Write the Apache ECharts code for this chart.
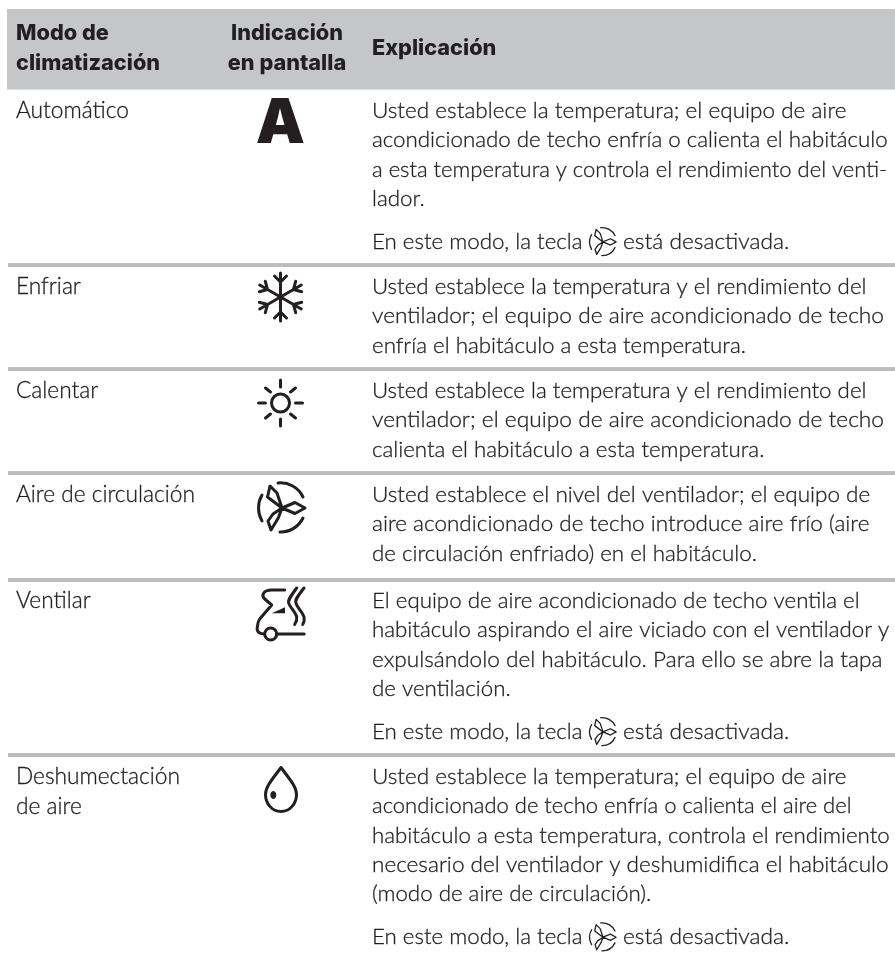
<!DOCTYPE html>
<html>
<head>
<meta charset="utf-8">
<style>
html, body { margin: 0; padding: 0; background: #fff; }
#main { width: 895px; height: 955px; }
</style>
<script src="https://cdn.jsdelivr.net/npm/echarts@6/dist/echarts.min.js"></script>
</head>
<body>
<div id="main"></div>
<script>
// table content
var headerMode = ['Modo de', 'climatización'];
var headerDisplay = ['Indicación', 'en pantalla'];
var headerText = ['Explicación'];
var modes = [
  ['Automático'],
  ['Enfriar'],
  ['Calentar'],
  ['Aire de circulación'],
  ['Ventilar'],
  ['Deshumectación', 'de aire']
];
var explanations = [
  ['Usted establece la temperatura; el equipo de aire', 'acondicionado de techo enfría o calienta el habitáculo', 'a esta temperatura y controla el rendimiento del venti-', 'lador.'],
  ['Usted establece la temperatura y el rendimiento del', 'ventilador; el equipo de aire acondicionado de techo', 'enfría el habitáculo a esta temperatura.'],
  ['Usted establece la temperatura y el rendimiento del', 'ventilador; el equipo de aire acondicionado de techo', 'calienta el habitáculo a esta temperatura.'],
  ['Usted establece el nivel del ventilador; el equipo de', 'aire acondicionado de techo introduce aire frío (aire', 'de circulación enfriado) en el habitáculo.'],
  ['El equipo de aire acondicionado de techo ventila el', 'habitáculo aspirando el aire viciado con el ventilador y', 'expulsándolo del habitáculo. Para ello se abre la tapa', 'de ventilación.'],
  ['Usted establece la temperatura; el equipo de aire', 'acondicionado de techo enfría o calienta el aire del', 'habitáculo a esta temperatura, controla el rendimiento', 'necesario del ventilador y deshumidifica el habitáculo', '(modo de aire de circulación).']
];
var notePrefix = 'En este modo, la tecla';
var noteSuffix = 'está desactivada.';
var rowsWithNote = [0, 4, 5];

var rowFirstLine = [111, 287, 391, 495, 601, 777];
var separators = [265, 369, 473, 580, 755];
var lineStep = 29.3;
var noteGap = 43;
var iconCenterX = 280.5;
var col1 = 16, col2 = 287, col3 = 372;
var ink = '#231f20';
var bodyFont = { fontFamily: 'Lato', fontSize: 22.3, fontWeight: 300, stroke: 0.3 };
var modeFont = { fontFamily: 'Lato', fontSize: 22.7, fontWeight: 300, stroke: 0.3 };
var headFont = { fontFamily: 'Inter', fontSize: 21.7, fontWeight: 800 };

// Lato runs a little differently per line, nudge the ones that end away from the reference
var lineFit = {
  'Usted establece la temperatura; el equipo de aire': 1.011,
  'a esta temperatura y controla el rendimiento del venti-': 0.987,
  'ventilador; el equipo de aire acondicionado de techo': 1.02,
  'Usted establece el nivel del ventilador; el equipo de': 1.01,
  'aire acondicionado de techo introduce aire frío (aire': 1.01,
  'expulsándolo del habitáculo. Para ello se abre la tapa': 1.014,
  'acondicionado de techo enfría o calienta el aire del': 0.986,
  'necesario del ventilador y deshumidifica el habitáculo': 1.012,
  'está desactivada.': 1.018
};

// icon outlines, drawn around their own centre
var fanPath = 'M0 0 L-5 -15 L-12 -22 L-14.5 -11 Z M0 0 L13 -5.5 L23 0 L13 5.5 Z M0 0 L-3.7 10 L-11 22 L-14 13 L-9 6 Z' +
  ' M-4 -25 A25 25 0 0 1 21 -11 M-20 -13 A26 26 0 0 0 -20 13 M-2 24 A25 25 0 0 0 21 10';
var armPath = 'M0 0 L0 -24 M-6 -21 L0 -15 L6 -21';
var ventPath = 'M14 -44 L1 -44 C-7 -44 -10 -39 -6 -35 L1 -29 L-11 -15 C-13 -12 -13 -10 -13.5 -6 C-14 -2 -11 0 -6 0' +
  ' M6 0 L33.5 0 M26 -46 C20 -38 17 -34 18 -31 C19 -27 25 -22 26 -17 C26.5 -14 25 -11 24 -9.5' +
  ' M33.3 -46 C27 -38 24 -34 25.3 -31 C26 -27 32 -22 33.3 -17 C33.8 -14 33 -11 32 -9.5';
var ventFill = 'M1 -20.7 L14.3 -26.7 L14.3 -20.7 Z';
var dropPath = 'M0 -22 C8 -11 15.5 -3 15.5 5 C15.5 14 9 22 0 22 C-9 22 -15.5 14 -15.5 5 C-15.5 -3 -8 -11 0 -22 Z';

var elements = [];
var shapeCount = 0;

function addText(str, x, y, font, align) {
  var style = {
    text: str, fill: ink, align: align || 'left', verticalAlign: 'middle',
    fontFamily: font.fontFamily, fontSize: font.fontSize, fontWeight: font.fontWeight
  };
  if (font.stroke) {
    style.stroke = ink;
    style.lineWidth = font.stroke;
  }
  elements.push({ type: 'text', x: x, y: y, scaleX: lineFit[str] || 1, silent: true, style: style });
}

// the graphic component has no plain path type, so each outline gets registered as a shape
function addPath(d, x, y, opt) {
  opt = opt || {};
  var scale = opt.scale || 1;
  var name = 'icon' + (shapeCount++);
  echarts.graphic.registerShape(name, echarts.graphic.extendPath(d, {}));
  elements.push({
    type: name, x: x, y: y, scaleX: scale, scaleY: scale, rotation: opt.rotation || 0, silent: true,
    style: {
      fill: opt.fill || 'none',
      stroke: opt.fill ? 'none' : ink,
      lineWidth: opt.lineWidth || 3,
      lineJoin: 'round', lineCap: 'round'
    }
  });
}

function fan(x, y, scale, lineWidth) {
  addPath(fanPath, x, y, { scale: scale, lineWidth: lineWidth });
}

// header band
elements.push({ type: 'rect', silent: true, shape: { x: 7, y: 9, width: 888, height: 80.5 }, style: { fill: '#c5c6c8' } });
headerMode.forEach(function (t, i) { addText(t, col1, 33 + i * 30, headFont); });
headerDisplay.forEach(function (t, i) { addText(t, col2, 33 + i * 30, headFont, 'center'); });
addText(headerText[0], col3, 48, headFont);

// separators
separators.forEach(function (y) {
  elements.push({ type: 'rect', silent: true, shape: { x: 8, y: y - 2, width: 887, height: 4 }, style: { fill: '#bcbdbf' } });
});

// rows
modes.forEach(function (lines, r) {
  var y0 = rowFirstLine[r];
  lines.forEach(function (t, i) { addText(t, col1, y0 + i * lineStep, modeFont); });
  explanations[r].forEach(function (t, i) { addText(t, col3, y0 + i * lineStep, bodyFont); });
  if (rowsWithNote.indexOf(r) >= 0) {
    var ny = y0 + (explanations[r].length - 1) * lineStep + noteGap;
    addText(notePrefix, col3, ny, bodyFont);
    fan(603, ny, 0.57, 2.3);
    addText(noteSuffix, 623, ny, bodyFont);
  }
});

// display icons
addText('A', iconCenterX, 124, { fontFamily: 'Inter', fontSize: 62, fontWeight: 900 }, 'center');
for (var k = 0; k < 6; k++) {
  addPath(armPath, iconCenterX, 297, { rotation: k * Math.PI / 3 });
}
addPath('M9 0 A9 9 0 1 1 -9 0 A9 9 0 1 1 9 0 Z', iconCenterX, 403);
[[-22, 0, -15, 0], [15, 0, 22, 0], [0, -23, 0, -16], [0, 16, 0, 23], [-15, -15, -10, -11], [15, -15, 10, -11], [-15, 15, -10, 11], [15, 15, 10, 11]].forEach(function (s) {
  addPath('M' + s[0] + ' ' + s[1] + ' L' + s[2] + ' ' + s[3], iconCenterX, 403);
});
fan(282, 508, 1, 3);
addPath(ventPath, 270.7, 634);
addPath(ventFill, 270.7, 634, { fill: ink });
addPath('M6 0 A6 6 0 1 1 -6 0 A6 6 0 1 1 6 0 Z', 270.7, 634);
addPath(dropPath, 281, 789.5);
elements.push({ type: 'ellipse', silent: true, shape: { cx: 273.3, cy: 795, rx: 3, ry: 4 }, style: { fill: ink } });

var chart = echarts.init(document.getElementById('main'), null, { renderer: 'canvas' });
chart.setOption({
  animation: false,
  graphic: { elements: elements }
});
</script>
</body>
</html>
